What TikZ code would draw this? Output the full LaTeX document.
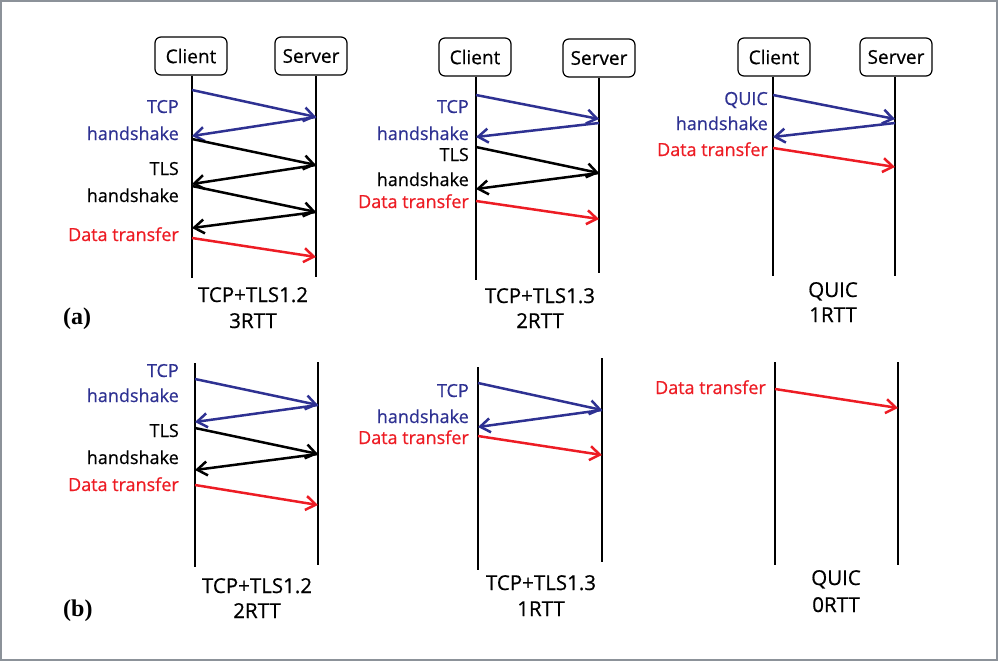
\documentclass[tikz,border=0pt]{standalone}
\usepackage{fontspec}
\setmainfont{Open Sans}[FakeBold=0.6]
\newfontfamily\panelfont{Liberation Serif}
\usetikzlibrary{arrows.meta}
\definecolor{nblue}{HTML}{2E3192}
\definecolor{nred}{HTML}{ED1C24}
\definecolor{framegray}{HTML}{8C9299}
\begin{document}
\begin{tikzpicture}[x=1pt,y=-1pt,
  box/.style={draw, rounded corners=6pt, minimum width=72pt, minimum height=38pt,
    line width=1.2pt, inner sep=0pt, font=\fontsize{19}{19}\selectfont},
  life/.style={line width=1.1pt},
  msg/.style={line width=2.5pt, -{Straight Barb[length=10pt,width=14pt]}},
  lbl/.style={anchor=base east, inner sep=0pt, font=\fontsize{18}{18}\selectfont},
  capt/.style={anchor=base, inner sep=0pt, font=\fontsize{20.5}{20.5}\selectfont},
  panellbl/.style={anchor=base west, inner sep=0pt, font=\panelfont\bfseries\fontsize{24}{24}\selectfont},
]
\useasboundingbox (0,0) rectangle (998,661);
\draw[framegray, line width=2pt] (1,1) rectangle (997,660);

% ================= Panel A1 =================
\node[box] (c1) at (191,56) {Client};
\node[box] (s1) at (311,56) {Server};
\coordinate (c1e) at (192,278);
\coordinate (s1e) at (316,277);
\draw[life] (c1.south -| c1e) -- (c1e);
\draw[life] (s1.south -| s1e) -- (s1e);
\coordinate (a1c1) at (192,90);  \coordinate (a1s1) at (316,117);
\coordinate (a1c2) at (192,136); \coordinate (a1c3) at (192,139);
\coordinate (a1s2) at (316,165); \coordinate (a1c4) at (192,184);
\coordinate (a1c5) at (192,186); \coordinate (a1s3) at (316,212);
\coordinate (a1c6) at (192,228); \coordinate (a1c7) at (192,238);
\coordinate (a1s4) at (316,257);
\draw[msg, nblue] (a1c1) -- (a1s1);
\draw[msg, nblue] (a1s1) -- (a1c2);
\draw[msg, black] (a1c3) -- (a1s2);
\draw[msg, black] (a1s2) -- (a1c4);
\draw[msg, black] (a1c5) -- (a1s3);
\draw[msg, black] (a1s3) -- (a1c6);
\draw[msg, nred] (a1c7) -- (a1s4);
\node[lbl, nblue] (l1a) at (179,113) {TCP};
\node[lbl, nblue] (l1b) at (179,140) {handshake};
\node[lbl] (l1c) at (179,175) {TLS};
\node[lbl] (l1d) at (179,202) {handshake};
\node[lbl, nred] (l1e) at (179,241) {Data transfer};
\node[capt] (k1a) at (253,302) {TCP+TLS1.2};
\node[capt] (k1b) at (253,328) {3RTT};
\node[panellbl] (pa) at (63,324) {(a)};

% ================= Panel A2 =================
\node[box] (c2) at (475,57) {Client};
\node[box] (s2) at (599,58) {Server};
\coordinate (c2e) at (476,280);
\coordinate (s2e) at (599,273);
\draw[life] (c2.south -| c2e) -- (c2e);
\draw[life] (s2.south -| s2e) -- (s2e);
\coordinate (a2c1) at (476,95);  \coordinate (a2s1) at (599,119);
\coordinate (a2s2) at (599,123); \coordinate (a2c2) at (476,137);
\coordinate (a2c3) at (476,147); \coordinate (a2s3) at (599,173);
\coordinate (a2c4) at (476,189); \coordinate (a2c5) at (476,201);
\coordinate (a2s4) at (599,219);
\draw[msg, nblue] (a2c1) -- (a2s1);
\draw[msg, nblue] (a2s2) -- (a2c2);
\draw[msg, black] (a2c3) -- (a2s3);
\draw[msg, black] (a2s3) -- (a2c4);
\draw[msg, nred] (a2c5) -- (a2s4);
\node[lbl, nblue] (l2a) at (469,113) {TCP};
\node[lbl, nblue] (l2b) at (469,140) {handshake};
\node[lbl] (l2c) at (469,161) {TLS};
\node[lbl] (l2d) at (469,186) {handshake};
\node[lbl, nred] (l2e) at (469,208) {Data transfer};
\node[capt] (k2a) at (540,303) {TCP+TLS1.3};
\node[capt] (k2b) at (540,328) {2RTT};

% ================= Panel A3 =================
\node[box] (c3) at (774,57) {Client};
\node[box] (s3) at (896,57) {Server};
\coordinate (c3e) at (773,276);
\coordinate (s3e) at (895,276);
\draw[life] (c3.south -| c3e) -- (c3e);
\draw[life] (s3.south -| s3e) -- (s3e);
\coordinate (a3c1) at (773,95);  \coordinate (a3s1) at (895,119);
\coordinate (a3s2) at (895,123); \coordinate (a3c2) at (773,137);
\coordinate (a3c3) at (773,148); \coordinate (a3s3) at (895,167);
\draw[msg, nblue] (a3c1) -- (a3s1);
\draw[msg, nblue] (a3s2) -- (a3c2);
\draw[msg, nred] (a3c3) -- (a3s3);
\node[lbl, nblue] (l3a) at (768,105) {QUIC};
\node[lbl, nblue] (l3b) at (768,130) {handshake};
\node[lbl, nred] (l3c) at (768,156) {Data transfer};
\node[capt] (k3a) at (833,297) {QUIC};
\node[capt] (k3b) at (833,322) {1RTT};

% ================= Panel B1 =================
\coordinate (c4t) at (195,363); \coordinate (c4e) at (195,567);
\coordinate (s4t) at (318,362); \coordinate (s4e) at (318,565);
\draw[life] (c4t) -- (c4e);
\draw[life] (s4t) -- (s4e);
\coordinate (b1c1) at (195,379); \coordinate (b1s1) at (318,405);
\coordinate (b1c2) at (195,422); \coordinate (b1c3) at (195,428);
\coordinate (b1s2) at (318,454); \coordinate (b1c4) at (195,470);
\coordinate (b1c5) at (195,485); \coordinate (b1s3) at (318,505);
\draw[msg, nblue] (b1c1) -- (b1s1);
\draw[msg, nblue] (b1s1) -- (b1c2);
\draw[msg, black] (b1c3) -- (b1s2);
\draw[msg, black] (b1s2) -- (b1c4);
\draw[msg, nred] (b1c5) -- (b1s3);
\node[lbl, nblue] (l4a) at (179,377) {TCP};
\node[lbl, nblue] (l4b) at (179,402) {handshake};
\node[lbl] (l4c) at (179,437) {TLS};
\node[lbl] (l4d) at (179,464) {handshake};
\node[lbl, nred] (l4e) at (179,491) {Data transfer};
\node[capt] (k4a) at (257,593) {TCP+TLS1.2};
\node[capt] (k4b) at (257,618) {2RTT};
\node[panellbl] (pb) at (63,616) {(b)};

% ================= Panel B2 =================
\coordinate (c5t) at (478,367); \coordinate (c5e) at (478,570);
\coordinate (s5t) at (602,358); \coordinate (s5e) at (602,562);
\draw[life] (c5t) -- (c5e);
\draw[life] (s5t) -- (s5e);
\coordinate (b2c1) at (478,383); \coordinate (b2s1) at (602,410);
\coordinate (b2c2) at (478,427); \coordinate (b2c3) at (478,436);
\coordinate (b2s2) at (602,455);
\draw[msg, nblue] (b2c1) -- (b2s1);
\draw[msg, nblue] (b2s1) -- (b2c2);
\draw[msg, nred] (b2c3) -- (b2s2);
\node[lbl, nblue] (l5a) at (469,397) {TCP};
\node[lbl, nblue] (l5b) at (469,423) {handshake};
\node[lbl, nred] (l5c) at (469,444) {Data transfer};
\node[capt] (k5a) at (541,590) {TCP+TLS1.3};
\node[capt] (k5b) at (541,616) {1RTT};

% ================= Panel B3 =================
\coordinate (c6t) at (775,362); \coordinate (c6e) at (775,565);
\coordinate (s6t) at (898,362); \coordinate (s6e) at (898,565);
\draw[life] (c6t) -- (c6e);
\draw[life] (s6t) -- (s6e);
\coordinate (b3c1) at (775,389); \coordinate (b3s1) at (898,408);
\draw[msg, nred] (b3c1) -- (b3s1);
\node[lbl, nred] (l6a) at (766,394) {Data transfer};
\node[capt] (k6a) at (836,585) {QUIC};
\node[capt] (k6b) at (836,612) {0RTT};
\end{tikzpicture}
\end{document}
